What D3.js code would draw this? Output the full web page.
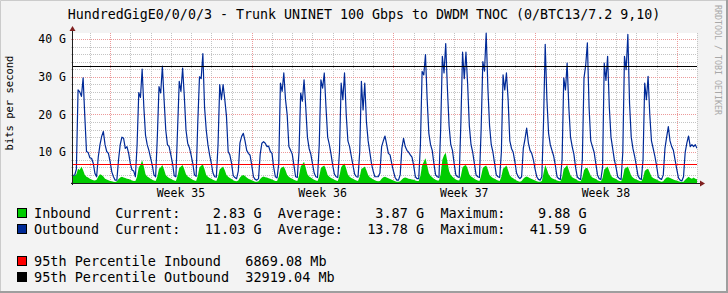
<!DOCTYPE html>
<html>
<head>
<meta charset="utf-8">
<script src="https://cdn.jsdelivr.net/npm/d3@7"></script>
<style>
  body { margin: 0; background: #f3f3f3; }
  svg { display: block; }
  text { font-family: "DejaVu Sans Mono", monospace; fill: #000; white-space: pre; }
</style>
</head>
<body>
<svg id="chart" width="728" height="293"></svg>
<script>
// ---- data (values in Gbit/s) ----
var title = "HundredGigE0/0/0/3 - Trunk UNINET 100 Gbps to DWDM TNOC (0/BTC13/7.2 9,10)";
var startTime = Date.UTC(2023, 7, 25, 4);   // first sample, Fri 04:00
var stepHours = 2;
var endTime = Date.UTC(2023, 8, 25, 0);
var yDomain = [1.85, 41.59];
var yTicks = [10, 20, 30, 40];
var weekLabels = ["Week 35", "Week 36", "Week 37", "Week 38"];

// one row per day, 2-hourly samples (00,02,...,22); first row starts at 04:00
var outbound = [
  3.9, 3.9, 5.5, 26.5, 26.0, 24.8, 29.7, 19.5, 10.2, 9.9,
  8.5, 8.4, 7.1, 4.4, 3.5, 8.8, 12.0, 14.2, 15.5, 12.0, 10.2, 9.7,
  7.5, 4.8, 3.5, 2.6, 2.6, 8.0, 12.0, 14.0, 13.7, 11.0, 11.5, 9.7,
  7.0, 5.3, 5.0, 3.5, 12.0, 25.8, 24.5, 32.0, 22.0, 14.5, 12.0, 10.5,
  8.5, 6.6, 4.0, 3.5, 14.0, 27.4, 25.7, 32.8, 24.0, 15.9, 12.0, 11.5,
  9.3, 7.1, 3.8, 3.5, 16.0, 28.8, 26.1, 32.3, 24.8, 15.9, 12.4, 11.2,
  9.3, 7.1, 4.0, 3.6, 18.0, 30.0, 29.5, 36.1, 22.0, 15.9, 12.0, 9.3,
  7.1, 4.5, 3.5, 3.4, 12.0, 27.9, 23.9, 27.9, 24.0, 19.5, 10.2, 9.3,
  7.1, 3.8, 3.3, 3.0, 5.0, 12.5, 14.2, 15.0, 13.0, 10.5, 9.7, 9.2,
  6.5, 3.5, 2.8, 2.6, 3.0, 9.5, 12.4, 12.8, 12.4, 11.5, 11.6, 10.2,
  9.7, 6.0, 3.5, 3.2, 7.0, 28.3, 26.1, 31.0, 24.0, 19.9, 11.5, 10.5,
  9.5, 6.5, 3.5, 3.3, 10.0, 25.7, 23.5, 29.2, 22.0, 14.0, 11.0, 9.5,
  7.0, 4.5, 3.5, 3.3, 12.0, 29.2, 27.0, 31.0, 22.0, 14.0, 12.0, 9.5,
  6.5, 4.2, 3.5, 3.3, 10.0, 28.3, 23.9, 31.0, 20.0, 13.0, 11.5, 9.0,
  6.5, 4.2, 3.5, 3.4, 10.0, 28.8, 21.2, 28.3, 18.0, 13.0, 10.0, 7.0,
  5.0, 3.5, 3.5, 3.5, 4.5, 11.5, 13.0, 14.3, 12.0, 9.7, 9.3, 7.0,
  5.0, 3.3, 2.6, 2.6, 4.0, 11.0, 13.7, 11.5, 10.5, 10.0, 9.3, 8.7,
  6.5, 3.5, 3.0, 3.0, 12.0, 31.4, 30.5, 35.9, 24.0, 15.0, 12.0, 10.5,
  7.0, 4.0, 3.5, 3.3, 16.0, 35.4, 31.0, 38.8, 27.0, 17.0, 12.0, 10.5,
  7.0, 4.0, 3.5, 3.3, 18.0, 36.5, 29.5, 36.5, 28.0, 17.0, 12.0, 10.0,
  7.0, 4.0, 3.5, 3.3, 16.0, 34.0, 31.5, 41.59, 27.0, 17.0, 12.0, 10.0,
  7.0, 4.0, 3.5, 3.3, 10.0, 30.5, 26.5, 31.0, 24.0, 13.0, 11.0, 10.0,
  7.5, 4.5, 3.5, 3.0, 3.5, 11.0, 13.5, 16.4, 12.5, 10.5, 9.7, 8.0,
  5.5, 3.5, 2.8, 2.6, 3.5, 18.0, 38.6, 24.0, 15.0, 12.0, 10.5, 9.0,
  6.5, 3.5, 3.0, 2.8, 8.0, 29.7, 26.5, 33.6, 22.0, 14.0, 11.5, 9.5,
  6.0, 3.5, 3.0, 2.8, 8.0, 29.7, 33.0, 39.0, 22.0, 13.0, 11.5, 10.0,
  7.0, 4.0, 3.0, 2.8, 6.0, 33.6, 29.0, 35.4, 22.0, 14.0, 11.0, 8.0,
  6.0, 3.5, 3.0, 2.8, 10.0, 35.4, 31.9, 41.2, 23.0, 14.0, 11.0, 9.0,
  6.5, 3.8, 3.0, 2.8, 8.0, 28.3, 23.9, 30.1, 20.0, 13.0, 11.0, 9.0,
  6.5, 3.5, 3.0, 2.8, 4.0, 11.0, 14.0, 16.8, 13.0, 11.5, 10.5, 8.0,
  5.5, 3.2, 2.6, 2.4, 3.5, 10.0, 12.5, 14.3, 11.5, 12.0, 11.5, 12.0,
  11.03
];

var inbound = [
  3.9, 3.8, 4.2, 5.6, 5.3, 6.2, 5.2, 4.0, 3.5, 3.3,
  3.0, 2.8, 2.6, 2.5, 2.7, 3.6, 4.2, 4.0, 3.6, 3.0, 2.8, 2.6,
  2.4, 2.3, 2.2, 2.1, 2.3, 2.9, 3.3, 3.5, 3.3, 3.2, 3.0, 2.9,
  2.7, 2.5, 2.4, 2.4, 3.5, 6.0, 6.6, 7.9, 6.2, 4.2, 3.6, 3.3,
  3.0, 2.7, 2.5, 2.4, 3.6, 5.6, 6.0, 6.6, 5.4, 4.0, 3.5, 3.2,
  3.0, 2.7, 2.5, 2.4, 3.8, 5.8, 6.2, 6.6, 5.5, 4.2, 3.6, 3.3,
  3.0, 2.7, 2.5, 2.4, 3.8, 6.0, 6.4, 6.8, 5.5, 4.0, 3.5, 3.2,
  3.0, 2.7, 2.5, 2.4, 3.5, 5.5, 5.8, 6.2, 5.2, 4.0, 3.5, 3.2,
  2.9, 2.6, 2.4, 2.3, 2.5, 3.3, 3.8, 4.0, 3.7, 3.3, 3.0, 2.8,
  2.6, 2.4, 2.2, 2.2, 2.3, 2.9, 3.4, 3.6, 3.4, 3.3, 3.1, 3.0,
  2.8, 2.6, 2.4, 2.4, 3.5, 5.6, 6.0, 6.2, 5.2, 4.0, 3.5, 3.2,
  3.0, 2.7, 2.5, 2.4, 3.8, 6.2, 6.8, 7.5, 5.8, 4.2, 3.6, 3.3,
  3.0, 2.7, 2.5, 2.4, 3.6, 5.8, 6.2, 6.5, 5.4, 4.0, 3.5, 3.2,
  3.0, 2.7, 2.5, 2.4, 3.7, 6.0, 6.6, 7.0, 5.6, 4.1, 3.5, 3.2,
  3.0, 2.7, 2.5, 2.4, 3.5, 5.6, 5.8, 6.2, 5.2, 4.0, 3.4, 3.1,
  2.8, 2.6, 2.4, 2.3, 2.4, 3.0, 3.4, 3.5, 3.3, 3.1, 2.9, 2.7,
  2.5, 2.3, 2.2, 2.2, 2.3, 2.8, 3.2, 3.3, 3.2, 3.0, 2.9, 2.8,
  2.7, 2.5, 2.4, 2.4, 3.8, 6.5, 7.5, 8.4, 6.5, 4.5, 3.8, 3.4,
  3.0, 2.7, 2.5, 2.5, 4.2, 8.0, 9.2, 9.88, 7.5, 5.0, 4.0, 3.5,
  3.1, 2.8, 2.6, 2.5, 3.8, 6.0, 6.4, 6.6, 5.6, 4.2, 3.6, 3.3,
  3.0, 2.7, 2.5, 2.4, 3.8, 5.8, 6.2, 6.5, 5.4, 4.0, 3.5, 3.2,
  3.0, 2.7, 2.5, 2.4, 3.5, 5.6, 6.0, 6.5, 5.2, 3.9, 3.4, 3.1,
  2.8, 2.5, 2.3, 2.2, 2.4, 3.0, 3.4, 3.6, 3.4, 3.1, 2.9, 2.7,
  2.5, 2.3, 2.2, 2.2, 2.4, 4.5, 6.6, 5.5, 4.2, 3.5, 3.1, 2.9,
  2.7, 2.5, 2.4, 2.3, 3.3, 5.6, 6.0, 6.6, 5.2, 3.9, 3.4, 3.1,
  2.9, 2.6, 2.4, 2.3, 3.3, 5.2, 5.8, 5.8, 4.8, 3.8, 3.3, 3.1,
  2.9, 2.6, 2.4, 2.3, 3.2, 5.4, 5.8, 6.2, 5.0, 3.8, 3.3, 3.1,
  2.9, 2.6, 2.4, 2.3, 3.4, 5.6, 5.9, 6.2, 5.0, 3.8, 3.3, 3.0,
  2.8, 2.6, 2.4, 2.3, 3.2, 5.0, 5.4, 5.6, 4.6, 3.6, 3.2, 3.0,
  2.8, 2.5, 2.3, 2.2, 2.3, 2.9, 3.3, 3.4, 3.2, 3.0, 2.8, 2.6,
  2.5, 2.3, 2.2, 2.1, 2.2, 2.7, 3.1, 3.5, 3.2, 3.0, 3.3, 3.0,
  2.83
];

var percentile95InMb = 6869.08;
var percentile95OutMb = 32919.04;

var legendRows = [
  {color: "#00cc00", text: "Inbound   Current:    2.83 G  Average:    3.87 G  Maximum:    9.88 G"},
  {color: "#002a97", text: "Outbound  Current:   11.03 G  Average:   13.78 G  Maximum:   41.59 G"},
  {color: "#ff0000", text: "95th Percentile Inbound   6869.08 Mb"},
  {color: "#000000", text: "95th Percentile Outbound  32919.04 Mb"}
];

// ---- drawing ----
var W = 728, H = 293;
var plot = {left: 73, right: 697, top: 33, bottom: 183};

var svg = d3.select("#chart");
svg.append("rect").attr("width", W).attr("height", H).attr("fill", "#f3f3f3");

// shaded frame
svg.append("path").attr("d", "M0.5,293V0.5H728").attr("fill", "none").attr("stroke", "#cbcbcb");
svg.append("path").attr("d", "M727,0V292H0").attr("fill", "none").attr("stroke", "#9e9e9e").attr("stroke-width", 2);

var x = d3.scaleUtc().domain([startTime, endTime]).range([plot.left, plot.right]);
var y = d3.scaleLinear().domain(yDomain).range([plot.bottom, plot.top]);

var times = outbound.map(function(d, i) { return new Date(startTime + i * stepHours * 3600e3); });

// canvas
svg.append("rect")
  .attr("x", plot.left).attr("y", plot.top)
  .attr("width", plot.right - plot.left).attr("height", plot.bottom - plot.top)
  .attr("fill", "#fff");

var crisp = function(v) { return Math.round(v) + 0.5; };

// grid
var grid = svg.append("g");
var minorY = d3.range(2, 42, 2).filter(function(v) { return v % 10 !== 0 && v > yDomain[0] && v < yDomain[1]; });
var days = d3.utcDay.range(startTime, endTime + 1);
var sundays = d3.utcSunday.range(startTime, endTime + 1);
var minorX = days.filter(function(d) { return d.getUTCDay() !== 0; });

grid.selectAll(".hminor").data(minorY).enter().append("line")
  .attr("x1", plot.left - 2).attr("x2", plot.right)
  .attr("y1", function(d) { return crisp(y(d)); }).attr("y2", function(d) { return crisp(y(d)); })
  .attr("stroke", "#c4c4c4").attr("stroke-dasharray", "1,1");
grid.selectAll(".vminor").data(minorX).enter().append("line")
  .attr("x1", function(d) { return crisp(x(d)); }).attr("x2", function(d) { return crisp(x(d)); })
  .attr("y1", plot.top).attr("y2", plot.bottom + 2)
  .attr("stroke", "#c4c4c4").attr("stroke-dasharray", "1,1");
grid.selectAll(".hmajor").data(yTicks).enter().append("line")
  .attr("x1", plot.left - 2).attr("x2", plot.right)
  .attr("y1", function(d) { return crisp(y(d)); }).attr("y2", function(d) { return crisp(y(d)); })
  .attr("stroke", "#ec9a9a").attr("stroke-dasharray", "1,1");
grid.selectAll(".vmajor").data(sundays).enter().append("line")
  .attr("x1", function(d) { return crisp(x(d)); }).attr("x2", function(d) { return crisp(x(d)); })
  .attr("y1", plot.top).attr("y2", plot.bottom + 2)
  .attr("stroke", "#ec9a9a").attr("stroke-dasharray", "1,1");

// data
svg.append("clipPath").attr("id", "clip").append("rect")
  .attr("x", plot.left).attr("y", plot.top - 1)
  .attr("width", plot.right - plot.left).attr("height", plot.bottom - plot.top + 1);

var data = svg.append("g").attr("clip-path", "url(#clip)");

var area = d3.area()
  .x(function(d, i) { return x(times[i]); })
  .y0(plot.bottom)
  .y1(function(d) { return y(d); });
data.append("path").datum(inbound).attr("d", area).attr("fill", "#00cc00");

var line = d3.line()
  .x(function(d, i) { return x(times[i]); })
  .y(function(d) { return y(d); });
data.append("path").datum(outbound).attr("d", line)
  .attr("fill", "none").attr("stroke", "#002a97").attr("stroke-width", 1.2)
  .attr("stroke-linejoin", "round");

// 95th percentile rules
[[percentile95InMb, "#ff0000"], [percentile95OutMb, "#000000"]].forEach(function(p) {
  var yy = crisp(y(p[0] / 1000));
  svg.append("line").attr("x1", plot.left).attr("x2", plot.right)
    .attr("y1", yy).attr("y2", yy).attr("stroke", p[1]);
});

// axes
var axisColor = "#1f1f1f", arrowColor = "#7f1f1f";
svg.append("line").attr("x1", plot.left - 2).attr("x2", plot.right + 4)
  .attr("y1", plot.bottom + 0.5).attr("y2", plot.bottom + 0.5).attr("stroke", axisColor);
svg.append("line").attr("x1", plot.left - 0.5).attr("x2", plot.left - 0.5)
  .attr("y1", plot.bottom + 2).attr("y2", plot.top - 3).attr("stroke", axisColor);
svg.append("path").attr("d", "M" + (plot.right + 3) + "," + (plot.bottom - 2.5) + "L" + (plot.right + 8) + "," + (plot.bottom + 0.5) + "L" + (plot.right + 3) + "," + (plot.bottom + 3.5) + "Z")
  .attr("fill", arrowColor);
svg.append("path").attr("d", "M" + (plot.left - 3.5) + "," + (plot.top - 2) + "L" + (plot.left - 0.5) + "," + (plot.top - 7) + "L" + (plot.left + 2.5) + "," + (plot.top - 2) + "Z")
  .attr("fill", arrowColor);

// y labels
var yAxis = d3.axisLeft(y).tickValues(yTicks).tickSize(0).tickPadding(0)
  .tickFormat(function(d) { return d + " G"; });
var gy = svg.append("g").attr("transform", "translate(" + (plot.left - 7) + ",0)").call(yAxis);
gy.select(".domain").remove();
gy.selectAll("text").style("font-family", "DejaVu Sans Mono").style("font-size", "11.5px").attr("fill", "#000");

// x labels: centred in each week
svg.selectAll(".wk").data(sundays.slice(0, weekLabels.length)).enter().append("text")
  .attr("x", function(d) { return x(d3.utcHour.offset(d, 84)); })
  .attr("y", 196.5)
  .attr("text-anchor", "middle")
  .style("font-size", "11.5px")
  .text(function(d, i) { return weekLabels[i]; });

// titles
svg.append("text").attr("x", W / 2).attr("y", 19).attr("text-anchor", "middle")
  .style("font-size", "13.3px").text(title);
svg.append("text").attr("transform", "translate(12.5," + ((plot.top + plot.bottom) / 2 - 5) + ") rotate(-90)")
  .attr("text-anchor", "middle").style("font-size", "10.5px").text("bits per second");
svg.append("text").attr("transform", "translate(715,5) rotate(90)")
  .style("font-size", "8.3px").attr("fill", "#a8a8a8").style("fill", "#a8a8a8")
  .text("RRDTOOL / TOBI OETIKER");

// legend
var legendY = [218, 234, 266, 282];
var legend = svg.append("g");
legendRows.forEach(function(r, i) {
  legend.append("rect").attr("x", 17.5).attr("y", legendY[i] - 9.5).attr("width", 9).attr("height", 9)
    .attr("fill", r.color).attr("stroke", "#000");
  legend.append("text").attr("x", 34).attr("y", legendY[i]).style("font-size", "13.5px").text(r.text);
});
</script>
</body>
</html>
